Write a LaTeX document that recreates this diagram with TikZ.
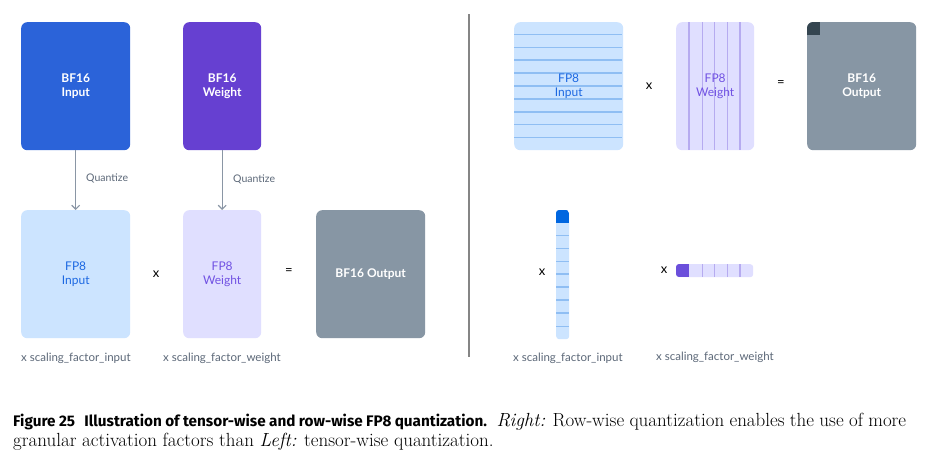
\documentclass[tikz,border=0pt]{standalone}
\usepackage{fontspec}
\newfontfamily\dfont{Lato}
\newfontfamily\capsans{Fira Sans}
\usetikzlibrary{arrows.meta}
\definecolor{bfin}{HTML}{2B63D9}
\definecolor{bfw}{HTML}{6640D1}
\definecolor{fpin}{HTML}{CCE4FF}
\definecolor{fpinline}{HTML}{8FBEF3}
\definecolor{fpintext}{HTML}{1C68E2}
\definecolor{fpw}{HTML}{E0DFFF}
\definecolor{fpwline}{HTML}{B6ABF0}
\definecolor{fpwtext}{HTML}{7152E3}
\definecolor{outc}{HTML}{8796A4}
\definecolor{darkc}{HTML}{344550}
\definecolor{arrc}{HTML}{8A96A5}
\definecolor{lblc}{HTML}{5C6878}
\definecolor{divc}{HTML}{858585}
\definecolor{vecin}{HTML}{0066E0}
\definecolor{vecw}{HTML}{6B4FDB}
\begin{document}
\begin{tikzpicture}[x=1pt,y=-1pt,
  box/.style={rectangle, rounded corners=6pt, inner sep=0pt, anchor=north west, align=center, font=\dfont\fontsize{12}{14}\selectfont},
  tall/.style={box, minimum width=109pt, minimum height=128pt},
  narrow/.style={box, minimum width=78pt, minimum height=128pt},
  wlabel/.style={text=white, font=\dfont\bfseries\fontsize{12}{14}\selectfont, align=center, inner sep=0pt},
  clabel/.style={font=\dfont\fontsize{12}{14}\selectfont, align=center, inner sep=0pt},
  op/.style={font=\dfont\fontsize{13}{14}\selectfont, inner sep=0pt, text=black},
  sf/.style={font=\dfont\fontsize{11.5}{13}\selectfont, text=lblc, inner sep=0pt, anchor=west},
  qf/.style={font=\dfont\fontsize{10.5}{12}\selectfont, text=lblc, inner sep=0pt, anchor=west},
  arr/.style={draw=arrc, line width=1.1pt, -{Straight Barb[length=4pt,width=8pt]}},
]
\useasboundingbox (0,0) rectangle (946,461);
\fill[white] (0,0) rectangle (946,461);

% ---------- Left: tensor-wise ----------
\node[tall, fill=bfin] (bfin) at (21,22) {};
\node[wlabel] (bfinT) at (bfin.center) {BF16\\Input};
\node[narrow, fill=bfw] (bfw) at (183,22) {};
\node[wlabel] (bfwT) at (bfw.center) {BF16\\Weight};

\node[tall, fill=fpin] (fpinL) at (21,210) {};
\node[clabel, text=fpintext] (fpinLT) at (fpinL.center) {FP8\\Input};
\node[narrow, fill=fpw] (fpwL) at (183,210) {};
\node[clabel, text=fpwtext] (fpwLT) at (fpwL.center) {FP8\\Weight};
\node[tall, fill=outc] (outL) at (316,210) {};
\node[wlabel] (outLT) at (outL.center) {BF16 Output};

\draw[arr] (bfin.south) -- (fpinL.north);
\draw[arr] (bfw.south) -- (fpwL.north);
\node[qf] (q1) at (86,178) {Quantize};
\node[qf] (q2) at (233,179) {Quantize};

\node[op] (xL) at (156,274) {x};
\node[op] (eqL) at (289,272) {=};

\node[sf] (sfiL) at (21,358) {x scaling\_factor\_input};
\node[sf] (sfwL) at (163,358) {x scaling\_factor\_weight};

% ---------- divider ----------
\coordinate (dtop) at (469,14);
\coordinate (dbot) at (469,357);
\draw[divc, line width=1.5pt] (dtop) -- (dbot);

% ---------- Right: row-wise ----------
\node[tall, fill=fpin] (fpinR) at (514,22) {};
\foreach \y/\w in {34/0.8,47/0.8,60/1.2,73/1.2,86/1.2,99/1.2,112/1.2,124/0.8,137/0.8}
  \draw[fpinline, line width=\w pt] (514,\y) -- (622,\y);
\node[clabel, text=fpintext] (fpinRT) at (fpinR.center) {FP8\\Input};

\node[narrow, fill=fpw] (fpwR) at (676,22) {};
\foreach \x/\w in {689/1.4,702/0.8,714/0.8,727/0.8,740/1.4}
  \draw[fpwline, line width=\w pt] (\x,22) -- (\x,150);
\node[clabel, text=fpwtext] (fpwRT) at (fpwR.center) {FP8\\Weight};

\node[tall, fill=outc] (outR) at (807,22) {};
\begin{scope}
  \clip[rounded corners=6pt] (807,22) rectangle (915,150);
  \fill[darkc] (807,22) rectangle (820,35);
\end{scope}
\node[wlabel] (outRT) at (outR.center) {BF16\\Output};

\node[op] (xR1) at (649,86) {x};
\node[op] (eqR) at (781,84) {=};

% column vector of input scales
\node[rectangle, rounded corners=3pt, fill=fpin, inner sep=0pt, anchor=north west, minimum width=13pt, minimum height=129pt] (colv) at (556,210) {};
\begin{scope}
  \clip[rounded corners=3pt] (556,210) rectangle (569,339);
  \fill[vecin] (556,210) rectangle (569,223);
\end{scope}
\foreach \y/\w in {235/0.8,248/0.8,261/0.8,274/1.2,287/1.2,300/1.2,313/1.2,326/0.8}
  \draw[fpinline, line width=\w pt] (556,\y) -- (569,\y);
\node[op] (xR2) at (542,272) {x};

% row vector of weight scales
\node[rectangle, rounded corners=3pt, fill=fpw, inner sep=0pt, anchor=north west, minimum width=77pt, minimum height=13pt] (rowv) at (676,264) {};
\begin{scope}
  \clip[rounded corners=3pt] (676,264) rectangle (753,277);
  \fill[vecw] (676,264) rectangle (689,277);
\end{scope}
\foreach \x/\w in {702/0.8,714/0.8,727/0.8,740/1.4}
  \draw[fpwline, line width=\w pt] (\x,264) -- (\x,277);
\node[op] (xR3) at (664,270) {x};

\node[sf] (sfiR) at (513,358) {x scaling\_factor\_input};
\node[sf] (sfwR) at (656,357) {x scaling\_factor\_weight};

% ---------- caption ----------
\node[anchor=north west, inner sep=0pt, text width=893pt, align=justify, font=\fontsize{19}{20}\selectfont] (cap) at (13,413)
 {{\capsans\bfseries\fontsize{15.3}{20}\selectfont Figure 25\hspace{0.6em}Illustration of tensor-wise and row-wise FP8 quantization.}\hspace{0.5em}\textit{Right:} Row-wise quantization enables the use of more\linebreak granular activation factors than \textit{Left:} tensor-wise quantization.};
\end{tikzpicture}
\end{document}
